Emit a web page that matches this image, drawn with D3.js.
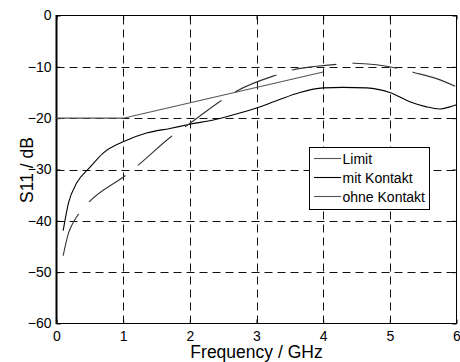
<!DOCTYPE html>
<html>
<head>
<meta charset="utf-8">
<script src="https://cdn.jsdelivr.net/npm/d3@7"></script>
<style>
  html, body { margin: 0; padding: 0; background: #fff; }
  svg { display: block; font-family: "Liberation Sans", Arial, sans-serif; }
</style>
</head>
<body>
<svg id="chart" width="460" height="362"></svg>
<script>
// ---- data ----
const xTicks = [0, 1, 2, 3, 4, 5, 6];
const yTicks = [0, -10, -20, -30, -40, -50, -60];

const limitFreq = [0, 1, 4];
const limitDb   = [-20, -20, -11];

const mitFreq = [0.1, 0.18, 0.3, 0.5, 0.7, 1.0, 1.35, 1.7, 2.0, 2.4, 2.75, 3.0, 3.3, 3.65, 4.0, 4.3, 4.65, 5.0, 5.3, 5.55, 5.75, 5.9, 6.0];
const mitDb   = [-41.9, -36.5, -32.7, -29.6, -26.8, -24.6, -22.9, -22.0, -21.2, -20.2, -19.0, -18.0, -16.6, -15.0, -14.1, -14.0, -14.1, -15.0, -16.8, -17.8, -18.2, -17.8, -17.4];

const ohneFreq = [0.1, 0.18, 0.22, 0.33, 0.49, 1.04, 1.22, 1.74, 1.98, 2.48, 2.69, 3.32, 3.54, 3.9, 4.22, 4.46, 4.8, 5.15, 5.36, 5.7, 6.0];
const ohneDb   = [-46.8, -42.4, -41.1, -38.7, -36.3, -31.1, -29.2, -23.4, -21.2, -16.5, -14.8, -11.5, -10.6, -9.9, -9.5, -9.3, -9.6, -10.4, -11.1, -12.3, -13.9];

const legendLabels = ["Limit", "mit Kontakt", "ohne Kontakt"];

// ---- chart ----
const svg = d3.select("#chart");
const L = 56.5, R = 456.5, T = 15.5, B = 323.5;
const x = d3.scaleLinear().domain([0, 6]).range([L, R]);
const y = d3.scaleLinear().domain([-60, 0]).range([B, T]);

// grid
const grid = svg.append("g").attr("stroke", "#111").attr("stroke-width", 1).attr("stroke-dasharray", "8,5");
xTicks.slice(1, -1).forEach(t => {
  const xp = Math.round(x(t)) + 0.5;
  grid.append("line").attr("x1", xp).attr("x2", xp).attr("y1", B).attr("y2", T);
});
yTicks.slice(1, -1).forEach(t => {
  const yp = Math.round(y(t)) + 0.5;
  grid.append("line").attr("x1", L).attr("x2", R).attr("y1", yp).attr("y2", yp);
});

// axes (ticks inside)
const xAxisB = d3.axisBottom(x).tickValues(xTicks).tickSize(-4).tickPadding(8).tickFormat(d3.format("d"));
const yAxisL = d3.axisLeft(y).tickValues(yTicks).tickSize(-4).tickPadding(5).tickFormat(d3.format("d"));
const gx = svg.append("g").attr("transform", `translate(0,${B})`).call(xAxisB);
const gy = svg.append("g").attr("transform", `translate(${L},0)`).call(yAxisL);
svg.append("g").attr("transform", `translate(0,${T})`).call(d3.axisTop(x).tickValues(xTicks).tickSize(-4).tickFormat(""));
svg.append("g").attr("transform", `translate(${R},0)`).call(d3.axisRight(y).tickValues(yTicks).tickSize(-4).tickFormat(""));
svg.selectAll(".domain").remove();
svg.selectAll(".tick line").attr("stroke", "#000");
[gx, gy].forEach(g => g.selectAll("text").attr("font-size", 14).attr("fill", "#000")
  .attr("font-family", "Liberation Sans, Arial, sans-serif"));
gx.selectAll("text").attr("dy", "0.71em");

// frame
svg.append("rect").attr("x", L).attr("y", T).attr("width", R - L).attr("height", B - T)
  .attr("fill", "none").attr("stroke", "#000").attr("stroke-width", 1);
svg.append("line").attr("x1", L).attr("x2", L).attr("y1", T - 0.5).attr("y2", B + 0.5)
  .attr("stroke", "#000").attr("stroke-width", 2);

// lines
const line = d3.line().x(d => x(d[0])).y(d => y(d[1]));
const smooth = d3.line().x(d => x(d[0])).y(d => y(d[1])).curve(d3.curveMonotoneX);

svg.append("path").datum(limitFreq.map((f, i) => [f, limitDb[i]]))
  .attr("d", line).attr("fill", "none").attr("stroke", "#555").attr("stroke-width", 1.1);
svg.append("path").datum(mitFreq.map((f, i) => [f, mitDb[i]]))
  .attr("d", smooth).attr("fill", "none").attr("stroke", "#000").attr("stroke-width", 1.1);
svg.append("path").datum(ohneFreq.map((f, i) => [f, ohneDb[i]]))
  .attr("d", smooth).attr("fill", "none").attr("stroke", "#333").attr("stroke-width", 1.1)
  .attr("stroke-dasharray", "45,16");

// axis titles
svg.append("text").attr("x", (L + R) / 2).attr("y", 357.5).attr("text-anchor", "middle")
  .attr("font-size", 17.5).attr("fill", "#000").text("Frequency / GHz");
svg.append("text").attr("transform", `translate(33,170) rotate(-90)`).attr("text-anchor", "middle")
  .attr("font-size", 17.5).attr("fill", "#000").text("S11 / dB");

// legend
const lg = svg.append("g");
lg.append("rect").attr("x", 309.5).attr("y", 147.5).attr("width", 120).attr("height", 62)
  .attr("fill", "#fff").attr("stroke", "#000").attr("stroke-width", 1);
const legColors = ["#555", "#000", "#555"];
const legY = [158.5, 177.5, 196.5];
legendLabels.forEach((lab, i) => {
  lg.append("line").attr("x1", 314).attr("x2", 341).attr("y1", legY[i]).attr("y2", legY[i])
    .attr("stroke", legColors[i]).attr("stroke-width", 1.1);
  lg.append("text").attr("x", 342.5).attr("y", legY[i] + 5).attr("font-size", 14)
    .attr("fill", "#000").text(lab);
});
</script>
</body>
</html>
